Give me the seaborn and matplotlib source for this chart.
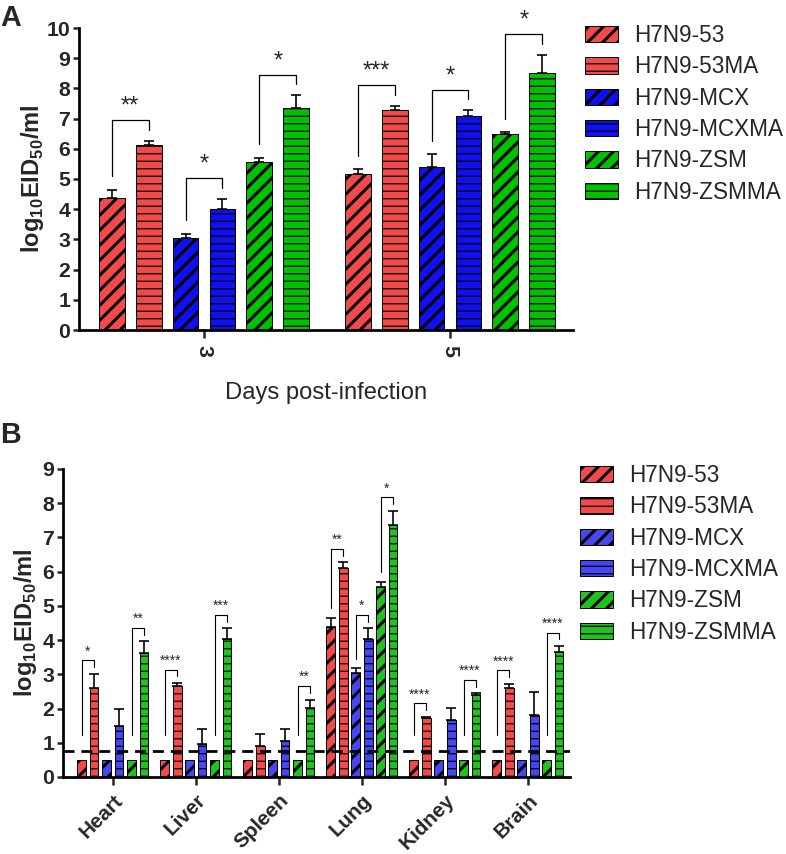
import numpy as np
import pandas as pd
import matplotlib
matplotlib.use("Agg")
import matplotlib.pyplot as plt
from matplotlib.patches import Patch
import seaborn as sns

# ---------------- data ----------------
strains = ["H7N9-53", "H7N9-53MA", "H7N9-MCX", "H7N9-MCXMA", "H7N9-ZSM", "H7N9-ZSMMA"]

# Panel A
days = ["3", "5"]
day3_mean = [4.38, 6.12, 3.03, 4.02, 5.55, 7.35]
day3_sd = [0.27, 0.15, 0.15, 0.32, 0.15, 0.42]
day5_mean = [5.17, 7.30, 5.40, 7.10, 6.50, 8.50]
day5_sd = [0.15, 0.12, 0.42, 0.18, 0.05, 0.62]
sig_day3 = ["**", "*", "*"]
sig_day5 = ["***", "*", "*"]

# Panel B
organs = ["Heart", "Liver", "Spleen", "Lung", "Kidney", "Brain"]
b_53 = [0.5, 0.5, 0.5, 4.38, 0.5, 0.5]
b_53_sd = [0, 0, 0, 0.27, 0, 0]
b_53MA = [2.60, 2.65, 0.90, 6.12, 1.71, 2.61]
b_53MA_sd = [0.41, 0.09, 0.36, 0.15, 0.04, 0.11]
b_MCX = [0.5, 0.5, 0.5, 3.03, 0.5, 0.5]
b_MCX_sd = [0, 0, 0, 0.15, 0, 0]
b_MCXMA = [1.49, 0.96, 1.05, 4.02, 1.67, 1.82]
b_MCXMA_sd = [0.50, 0.44, 0.35, 0.32, 0.35, 0.66]
b_ZSM = [0.5, 0.5, 0.5, 5.55, 0.5, 0.5]
b_ZSM_sd = [0, 0, 0, 0.15, 0, 0]
b_ZSMMA = [3.62, 4.03, 2.02, 7.35, 2.40, 3.65]
b_ZSMMA_sd = [0.34, 0.31, 0.24, 0.42, 0.04, 0.17]
detection_limit = 0.75
# significance: (organ index, pair index 0=53,1=MCX,2=ZSM, label)
sig_B = [(0, 0, "*"), (0, 2, "**"), (1, 0, "****"), (1, 2, "***"), (2, 2, "**"),
         (3, 0, "**"), (3, 1, "*"), (3, 2, "*"), (4, 0, "****"), (4, 2, "****"),
         (5, 0, "****"), (5, 2, "****")]

# ---------------- style ----------------
sns.set_style("ticks")
plt.rcParams["font.family"] = ["Liberation Sans", "DejaVu Sans"]
plt.rcParams["mathtext.fontset"] = "custom"
plt.rcParams["mathtext.rm"] = "Liberation Sans"
plt.rcParams["mathtext.bf"] = "Liberation Sans:bold"
plt.rcParams["hatch.linewidth"] = 2.2

DPI = 90
fig = plt.figure(figsize=(787 / DPI, 854 / DPI), dpi=DPI)

palA = ["#f24a4a", "#f24a4a", "#1010f0", "#1010f0", "#00c000", "#00c000"]
palB = ["#f24a4a", "#f24a4a", "#4646f2", "#4646f2", "#1fc21f", "#1fc21f"]
hatches = ["//", "--", "//", "--", "//", "--"]


def hatch_lw(h):
    return 2.4 if "/" in h else 1.0


def style_axis(ax, ymax, labelpad):
    for s in ["top", "right"]:
        ax.spines[s].set_visible(False)
    for s in ["left", "bottom"]:
        ax.spines[s].set_linewidth(2.2)
        ax.spines[s].set_color("black")
    ax.set_ylim(0, ymax)
    ax.set_yticks(range(0, ymax + 1))
    ax.tick_params(axis="y", length=5, width=2, labelsize=17, pad=2)
    ax.tick_params(axis="x", length=6, width=2, labelsize=17)
    for lab in ax.get_yticklabels():
        lab.set_fontweight("bold")
    ax.set_ylabel(r"log$_{\mathbf{10}}$EID$_{\mathbf{50}}$/ml", fontsize=19,
                  fontweight="bold", labelpad=labelpad)


def draw_bars(ax, df, xcol, order, pal, sd_lists, bar_lw=0.8):
    sns.barplot(data=df, x=xcol, y="value", hue="strain", order=order,
                hue_order=strains, palette=pal, width=0.9, gap=0.3,
                errorbar=None, edgecolor="black", linewidth=bar_lw,
                legend=False, ax=ax, saturation=1)
    bar_containers = list(ax.containers)
    centers = []
    tops = []
    for i, cont in enumerate(bar_containers):
        cx = []
        ty = []
        for j, bar in enumerate(cont.patches):
            bar.set_hatch(hatches[i])
            bar.set_edgecolor("black")
            if hasattr(bar, "set_hatch_linewidth"):
                bar.set_hatch_linewidth(hatch_lw(hatches[i]))
            x = bar.get_x() + bar.get_width() / 2
            h = bar.get_height()
            sd = sd_lists[i][j]
            cx.append(x)
            ty.append(h + sd)
            if sd > 0:
                ax.errorbar([x], [h], yerr=[[0], [sd]], fmt="none", ecolor="black",
                            elinewidth=1.3, capsize=4, capthick=1.3, zorder=5)
        centers.append(cx)
        tops.append(ty)
    return centers, tops


def legend(fig, x, y, pal):
    handles = [Patch(facecolor=pal[i], edgecolor="black", hatch=hatches[i],
                     linewidth=0.8, label=strains[i]) for i in range(6)]
    leg = fig.legend(handles=handles, loc="upper left", bbox_to_anchor=(x, y),
                     bbox_transform=fig.transFigure, frameon=False, fontsize=18,
                     handlelength=1.45, handleheight=0.75, handletextpad=0.75,
                     labelspacing=0.37, borderpad=0, borderaxespad=0)
    for i, p in enumerate(leg.get_patches()):
        if hasattr(p, "set_hatch_linewidth"):
            p.set_hatch_linewidth(hatch_lw(hatches[i]))
    return leg


# ---------------- Panel A ----------------
axA = fig.add_axes([79 / 787, 1 - 330 / 854, (573 - 79) / 787, (330 - 28) / 854])
dfA = pd.DataFrame({
    "day": np.repeat(days, len(strains)),
    "strain": strains * 2,
    "value": day3_mean + day5_mean,
})
sdA = [[day3_sd[i], day5_sd[i]] for i in range(6)]
cA, tA = draw_bars(axA, dfA, "day", days, palA, sdA)
style_axis(axA, 10, 0)
axA.set_xlim(-0.508, 1.5)
axA.set_xlabel("Days post-infection", fontsize=19, labelpad=20)
for lab in axA.get_xticklabels():
    lab.set_fontweight("bold")
    lab.set_rotation(-90)
axA.tick_params(axis="x", pad=6)

sigA = [sig_day3, sig_day5]
for g in range(2):
    for p in range(3):
        li, ri = 2 * p, 2 * p + 1
        xl, xr = cA[li][g], cA[ri][g]
        yl, yr = tA[li][g], tA[ri][g]
        top = max(yl, yr) + 0.68
        axA.plot([xl, xl, xr, xr], [yl + 0.45, top, top, top - 0.32],
                 color="black", lw=1.0, clip_on=False, zorder=6)
        axA.text((xl + xr) / 2, top + 0.08, sigA[g][p], ha="center", va="bottom",
                 fontsize=19, clip_on=False)

legend(fig, 585 / 787, 1 - 24 / 854, palA)
fig.text(0.0, 1 - 4 / 854, "A", fontsize=23, fontweight="bold", va="top", ha="left")

# ---------------- Panel B ----------------
axB = fig.add_axes([63 / 787, 1 - 777 / 854, (570 - 63) / 787, (777 - 469) / 854])
seriesB = [b_53, b_53MA, b_MCX, b_MCXMA, b_ZSM, b_ZSMMA]
sdB = [b_53_sd, b_53MA_sd, b_MCX_sd, b_MCXMA_sd, b_ZSM_sd, b_ZSMMA_sd]
dfB = pd.DataFrame({
    "organ": organs * 6,
    "strain": np.repeat(strains, len(organs)),
    "value": sum(seriesB, []),
})
cB, tB = draw_bars(axB, dfB, "organ", organs, palB, sdB)
style_axis(axB, 9, 3)
axB.set_xlim(-0.6, 5.506)
axB.set_xlabel("")
axB.set_xticks(range(len(organs)))
axB.set_xticklabels(organs, rotation=45, ha="right", rotation_mode="anchor",
                    fontweight="bold", fontsize=16.5)
axB.tick_params(axis="x", pad=5)
axB.axhline(detection_limit, color="black", lw=2.2, ls=(0, (4, 2.5)), zorder=4)

for (o, p, lab) in sig_B:
    li, ri = 2 * p, 2 * p + 1
    xl, xr = cB[li][o], cB[ri][o]
    yl, yr = tB[li][o], tB[ri][o]
    top = yr + 0.4
    bottom_left = max(yl + 0.28, 1.22)
    axB.plot([xl, xl, xr, xr], [bottom_left, top, top, top - 0.2],
             color="black", lw=0.9, clip_on=False, zorder=6)
    axB.text((xl + xr) / 2, top + 0.05, lab, ha="center", va="bottom",
             fontsize=11, clip_on=False)

legend(fig, 580 / 787, 1 - 464 / 854, palB)
fig.text(0.0, 1 - 421 / 854, "B", fontsize=23, fontweight="bold", va="top", ha="left")

fig.savefig("out.png", dpi=DPI)
